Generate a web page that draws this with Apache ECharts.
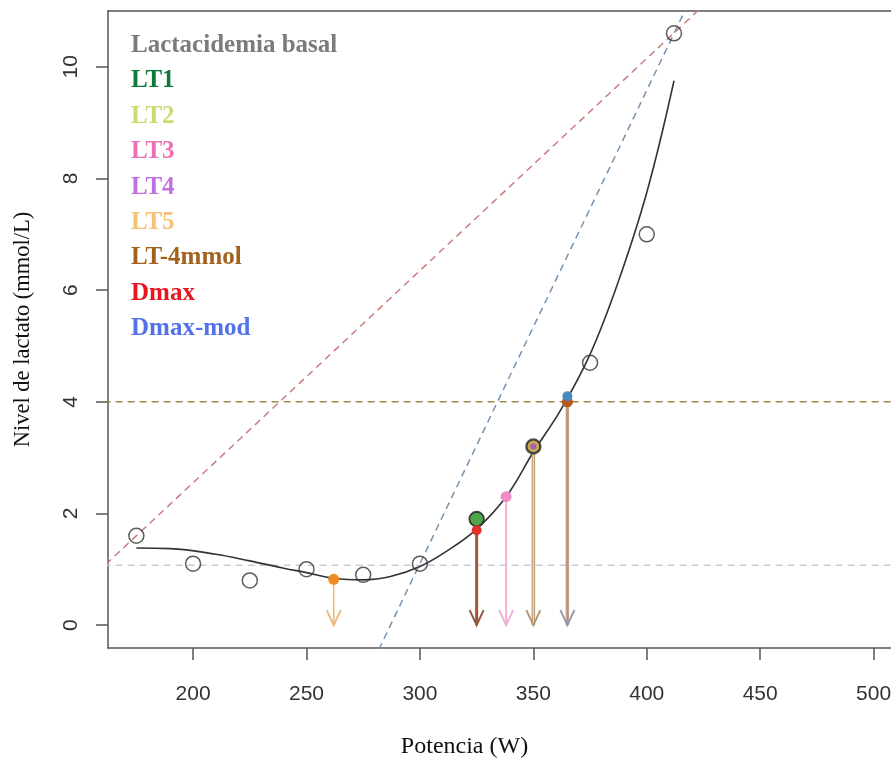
<!DOCTYPE html>
<html><head><meta charset="utf-8">
<script src="https://cdn.jsdelivr.net/npm/echarts@6/dist/echarts.min.js"></script>
<style>html,body{margin:0;padding:0;background:#fff}#c{width:891px;height:758px}</style>
</head><body><div id="c"></div>
<script>
// ---- data ----
const obsX = [175, 200, 225, 250, 275, 300, 325, 350, 375, 400, 412];
const obsY = [1.6, 1.1, 0.8, 1.0, 0.9, 1.1, 1.9, 3.2, 4.7, 7.0, 10.6];
const fitX = [175, 190, 210, 225, 240, 250, 262, 275, 287, 300, 312, 325, 338, 350, 362, 375, 387, 400, 412];
const fitY = [1.38, 1.37, 1.27, 1.15, 1.02, 0.94, 0.84, 0.81, 0.87, 1.05, 1.33, 1.72, 2.3, 3.1, 3.85, 4.85, 6.1, 7.75, 9.75];
const dmaxLineX = [150, 430];
const dmaxLineY = [0.65, 11.29];
const dmaxModLineX = [275, 425];
const dmaxModLineY = [-1.02, 11.7];
const basalLevel = 1.07;
const level4 = 4.0;
const arrowX = [262, 325, 338, 350, 365];
const arrowY = [0.82, 1.7, 2.3, 3.2, 4.0];
const markerNames = ['LT5', 'LT1', 'Dmax', 'LT3', 'LT2', 'LT4', 'LT-4mmol', 'Dmax-mod'];
const markerX = [262, 325, 325, 338, 350, 350, 365, 365];
const markerY = [0.82, 1.9, 1.7, 2.3, 3.2, 3.2, 4.0, 4.1];
const legendNames = ['Lactacidemia basal', 'LT1', 'LT2', 'LT3', 'LT4', 'LT5', 'LT-4mmol', 'Dmax', 'Dmax-mod'];
const xTicks = [200, 250, 300, 350, 400, 450, 500];
const yTicks = [0, 2, 4, 6, 8, 10];

// ---- styles ----
const legendColors = ['#7b7b7b', '#0c7a3a', '#c9dc72', '#ef6fb6', '#c070de', '#f7c172', '#a3621c', '#e8161e', '#5271ea'];
const markerStyles = [
  {color: '#f08a24', size: 11, border: null},
  {color: '#4fa54c', size: 14, border: '#2a3a2a'},
  {color: '#e0302a', size: 10, border: null},
  {color: '#f08cc8', size: 11, border: null},
  {color: '#c8a850', size: 13, border: '#333'},
  {color: '#a060b8', size: 6, border: null},
  {color: '#b8581e', size: 11, border: null},
  {color: '#4a86c0', size: 10, border: null}
];
const arrowStyles = [
  {outer: '#f2b880', ow: 1.6, inner: null},
  {outer: '#8e5c3e', ow: 3, inner: '#a8583e'},
  {outer: '#f0b0d8', ow: 2, inner: null},
  {outer: '#b89a72', ow: 3.5, inner: '#efe2cc'},
  {outer: '#c2a48a', ow: 3.5, inner: '#9a9aa8'}
];

const chart = echarts.init(document.getElementById('c'));
const zip = (a, b) => a.map((v, i) => [v, b[i]]);

const series = [];
series.push({type: 'line', data: zip(dmaxLineX, dmaxLineY), symbol: 'none', silent: true,
  lineStyle: {color: '#cd7c7c', width: 1.5, type: [7, 5]}, z: 2});
series.push({type: 'line', data: zip(dmaxModLineX, dmaxModLineY), symbol: 'none', silent: true,
  lineStyle: {color: '#7494b4', width: 1.5, type: [7, 5]}, z: 2});
series.push({type: 'line', data: [[150, basalLevel], [530, basalLevel]], symbol: 'none', silent: true,
  lineStyle: {color: '#cacdd4', width: 1.5, type: [7, 5]}, z: 2});
series.push({type: 'line', data: [[150, level4], [530, level4]], symbol: 'none', silent: true,
  lineStyle: {color: '#a08848', width: 1.5, type: [7, 5]}, z: 2});
series.push({type: 'line', data: zip(fitX, fitY), symbol: 'none', smooth: 0.4, silent: true,
  lineStyle: {color: '#333', width: 1.6}, z: 3});
series.push({type: 'custom', data: zip(arrowX, arrowY), z: 4, silent: true,
  renderItem: function (params, api) {
    const p1 = api.coord([api.value(0), api.value(1)]);
    const p2 = api.coord([api.value(0), 0]);
    const s = arrowStyles[params.dataIndex];
    const ch = [{type: 'line', shape: {x1: p1[0], y1: p1[1], x2: p2[0], y2: p2[1]}, style: {stroke: s.outer, lineWidth: s.ow}}];
    if (s.inner) ch.push({type: 'line', shape: {x1: p1[0], y1: p1[1], x2: p2[0], y2: p2[1] - 2}, style: {stroke: s.inner, lineWidth: 1.1}});
    ch.push({type: 'polyline', shape: {points: [[p2[0] - 7, p2[1] - 15], [p2[0], p2[1]], [p2[0] + 7, p2[1] - 15]]},
      style: {stroke: params.dataIndex === 4 ? '#9a9aa8' : s.outer, fill: null, lineWidth: 2}});
    return {type: 'group', children: ch};
  }});
series.push({type: 'scatter', data: zip(obsX, obsY), symbol: 'circle', symbolSize: 15, silent: true,
  itemStyle: {color: 'rgba(255,255,255,0)', borderColor: '#333', borderWidth: 1.5}, z: 5});
markerNames.forEach((n, i) => {
  const s = markerStyles[i];
  series.push({type: 'scatter', name: n, data: [[markerX[i], markerY[i]]], symbol: 'circle', symbolSize: s.size, silent: true,
    itemStyle: {color: s.color, borderColor: s.border || s.color, borderWidth: s.border ? 1.3 : 0, opacity: 1}, z: 6 + i});
});

const graphics = legendNames.map((n, i) => ({
  type: 'text', left: 131, top: 33 + i * 35.4,
  style: {text: n, fill: legendColors[i], font: 'bold 25px "Liberation Serif", serif'}
}));

chart.setOption({
  animation: false,
  grid: {left: 108, top: 11, bottom: 110, right: -28, outerBoundsMode: 'none', containLabel: false, show: false},
  xAxis: [{type: 'value', min: 162.5, max: 520,
    name: 'Potencia (W)', nameLocation: 'middle', nameGap: 87,
    nameTextStyle: {fontFamily: '"Liberation Serif", serif', fontSize: 24, color: '#111', padding: [0, 98, 0, 0]},
    axisLine: {show: true, onZero: false, lineStyle: {color: '#555', width: 1.5}},
    axisTick: {show: true, length: 12, customValues: xTicks, lineStyle: {color: '#555', width: 1.5}},
    axisLabel: {customValues: xTicks, fontSize: 21, color: '#333', margin: 36, fontFamily: '"Liberation Sans", Arial, sans-serif'},
    splitLine: {show: false}},
    {type: 'value', position: 'top', min: 162.5, max: 520,
    axisLine: {show: true, onZero: false, lineStyle: {color: '#555', width: 1.5}},
    axisTick: {show: false}, axisLabel: {show: false}, splitLine: {show: false}}],
  yAxis: {type: 'value', min: -0.41, max: 11.0,
    name: 'Nivel de lactato (mmol/L)', nameLocation: 'middle', nameGap: 73, nameRotate: 90,
    nameTextStyle: {fontFamily: '"Liberation Serif", serif', fontSize: 22.5, color: '#111'},
    axisLine: {show: true, onZero: false, lineStyle: {color: '#555', width: 1.5}},
    axisTick: {show: true, length: 12, customValues: yTicks, lineStyle: {color: '#555', width: 1.5}},
    axisLabel: {customValues: yTicks, fontSize: 21, color: '#333', margin: 26, rotate: 90, fontFamily: '"Liberation Sans", Arial, sans-serif'},
    splitLine: {show: false}},
  graphic: graphics,
  series: series
});
</script>
</body></html>
